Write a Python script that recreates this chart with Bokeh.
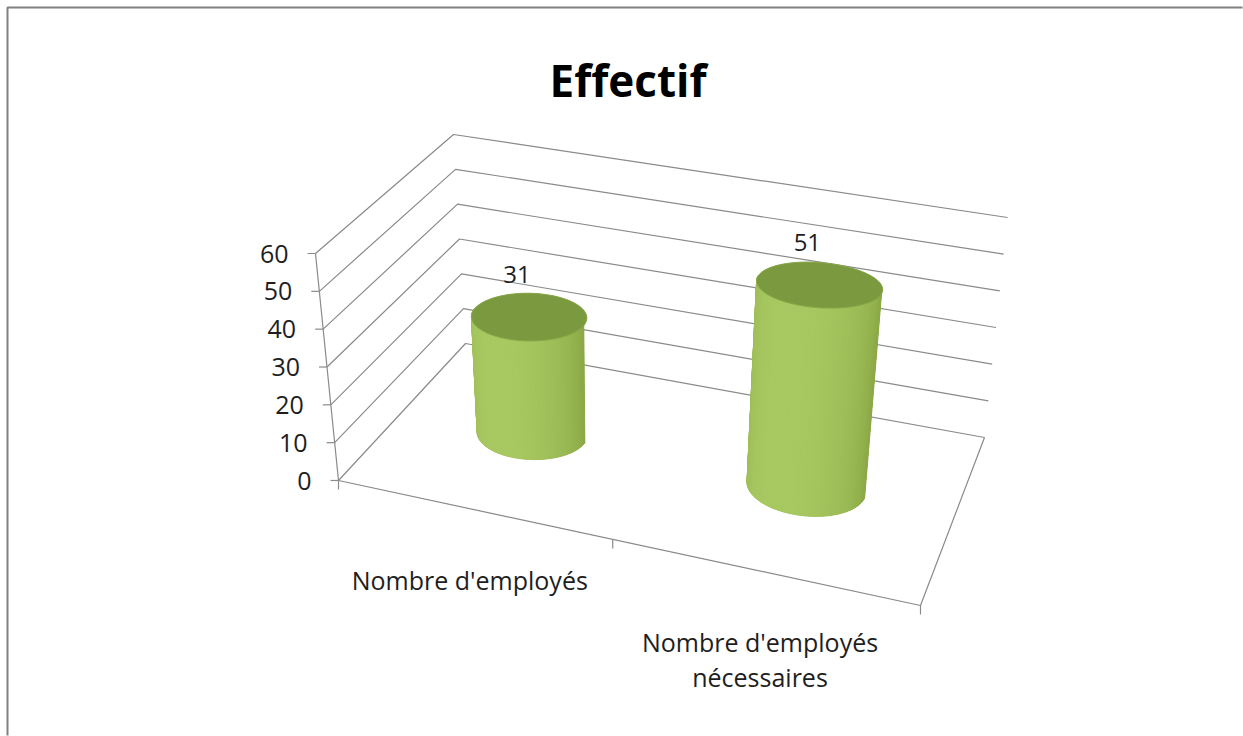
import numpy as np
from bokeh.plotting import figure
from bokeh.models import Range1d
from bokeh.core.properties import value
from bokeh.embed import file_html
from bokeh.resources import INLINE

# ---------------- data ----------------
title_text = "Effectif"
categories = ["Nombre d'employés", "Nombre d'employés\nnécessaires"]
values = [31, 51]
y_ticks = [0, 10, 20, 30, 40, 50, 60]

# ---------------- layout (3D box projection) ----------------
W, H = 1243, 736
Y_MAX = y_ticks[-1]
FLOOR = {"FL": (338, 480), "FR": (920, 605), "BR": (984, 437), "BL": (465, 343)}
VERT = {"FL": (-23, -227), "FR": (30, -268), "BR": (23, -220), "BL": (-12, -209)}
FONT = "Open Sans"
GRID_COLOR = "#8a8a8a"
TEXT_COLOR = "#1e1e1e"
FRAME_INSET = 7


def solve_h(src, dst):
    A, b = [], []
    for (x, y), (X, Y) in zip(src, dst):
        A.append([x, y, 1, 0, 0, 0, -X * x, -X * y]); b.append(X)
        A.append([0, 0, 0, x, y, 1, -Y * x, -Y * y]); b.append(Y)
    h = np.linalg.solve(np.array(A, float), np.array(b, float))
    return np.append(h, 1.0).reshape(3, 3)


HM = solve_h([(0, 0), (1, 0), (1, 1), (0, 1)],
             [FLOOR[k] for k in ("FL", "FR", "BR", "BL")])


def proj(u, w, v):
    u = np.asarray(u, float); w = np.asarray(w, float); v = np.asarray(v, float)
    d = HM[2, 0] * u + HM[2, 1] * w + HM[2, 2]
    x = (HM[0, 0] * u + HM[0, 1] * w + HM[0, 2]) / d
    y = (HM[1, 0] * u + HM[1, 1] * w + HM[1, 2]) / d
    c = [(1 - u) * (1 - w), u * (1 - w), u * w, (1 - u) * w]
    keys = ("FL", "FR", "BR", "BL")
    vx = sum(ci * VERT[k][0] for ci, k in zip(c, keys))
    vy = sum(ci * VERT[k][1] for ci, k in zip(c, keys))
    t = v / Y_MAX
    return x + vx * t, y + vy * t


def hexmix(c1, c2, k):
    a = np.array([int(c1[i:i + 2], 16) for i in (1, 3, 5)], float)
    b = np.array([int(c2[i:i + 2], 16) for i in (1, 3, 5)], float)
    m = np.clip(a + (b - a) * k, 0, 255).astype(int)
    return "#%02x%02x%02x" % tuple(m)


p = figure(width=W, height=H, x_range=Range1d(0, W), y_range=Range1d(H, 0),
           x_axis_location=None, y_axis_location=None, toolbar_location=None,
           output_backend="svg", min_border=0, title=None)
p.outline_line_color = None
p.grid.visible = False
p.background_fill_color = "white"
p.border_fill_color = "white"

# outer chart-area border: top and left edges as one open path
p.line(x=[W - 1, FRAME_INSET, FRAME_INSET], y=[FRAME_INSET, FRAME_INSET, H - 1],
       line_color="#808080", line_width=2)

# gridlines: left wall + back wall
gx, gy = [], []
for t in y_ticks:
    xs, ys = proj([0, 0, 1], [0, 1, 1], [t, t, t])
    gx.append(list(xs)); gy.append(list(ys))
ax_x, ax_y = proj([0, 0], [0, 0], [0, Y_MAX]); gx.append(list(ax_x)); gy.append(list(ax_y))
fx, fy = proj([0, 1, 1], [0, 0, 1], [0, 0, 0]); gx.append(list(fx)); gy.append(list(fy))
p.multi_line(gx, gy, line_color=GRID_COLOR, line_width=1.2)

# y ticks and labels
tx, ty = proj(np.zeros(len(y_ticks)), np.zeros(len(y_ticks)), np.array(y_ticks, float))
p.multi_line([[a - 8, a] for a in tx], [[b, b] for b in ty], line_color=GRID_COLOR, line_width=1.2)
p.text(x=list(tx - 27), y=list(ty), text=[str(t) for t in y_ticks],
       text_font=value(FONT), text_font_size="25px", text_color=TEXT_COLOR,
       text_align="right", text_baseline="middle")

# category ticks
n = len(categories)
cx, cy = proj(np.arange(n + 1) / n, np.zeros(n + 1), np.zeros(n + 1))
p.multi_line([[a, a] for a in cx], [[b, b + 9] for b in cy], line_color=GRID_COLOR, line_width=1.2)

# cylinders
RU, RW, W0 = 0.1, 0.17, 0.5
DARK, LIGHT, TOP = "#7a9838", "#a9c962", "#7b9a3f"
N = 72
for i, val in enumerate(values):
    u0 = (i + 0.5) / n
    tt = np.linspace(0, 2 * np.pi, 181)
    bu, bw = u0 + RU * np.cos(tt), W0 + RW * np.sin(tt)
    bx, by = proj(bu, bw, np.zeros_like(tt))
    topx, topy = proj(bu, bw, np.full_like(tt, val))
    front = (tt >= np.pi)
    back = (tt <= np.pi)
    sx = list(bx[front]) + list(topx[back])
    sy = list(by[front]) + list(topy[back])
    p.patch(sx, sy, fill_color=hexmix(DARK, LIGHT, 0.5), line_color=None)
    ts = np.linspace(np.pi, 2 * np.pi, N + 1)
    su, sw = u0 + RU * np.cos(ts), W0 + RW * np.sin(ts)
    sbx, sby = proj(su, sw, np.zeros_like(ts))
    stx, sty = proj(su, sw, np.full_like(ts, val))
    xs_l, ys_l, cols = [], [], []
    for k in range(N):
        s = (ts[k] + ts[k + 1]) / 2
        s = (s - np.pi) / np.pi
        kk = max(0.0, np.cos((s - 0.42) * np.pi / 1.5))
        cols.append(hexmix(DARK, LIGHT, kk))
        xs_l.append([sbx[k], sbx[k + 1], stx[k + 1], stx[k]])
        ys_l.append([sby[k], sby[k + 1], sty[k + 1], sty[k]])
    p.patches(xs_l, ys_l, fill_color=cols, line_color=cols, line_width=1)
    p.patch(list(topx), list(topy), fill_color=TOP, line_color="#88a648", line_width=1)
    lx, ly = proj(u0, W0, val)
    p.text(x=[float(lx) - 12], y=[float(ly) - 42], text=[str(val)],
           text_font=value(FONT), text_font_size="24px", text_color=TEXT_COLOR,
           text_align="center", text_baseline="middle")

# category labels
lx, ly = proj((np.arange(n) + 0.5) / n, np.zeros(n), np.zeros(n))
p.text(x=list(lx - 2), y=list(ly + 54), text=categories,
       text_font=value(FONT), text_font_size="25px", text_color=TEXT_COLOR,
       text_align="center", text_baseline="top", text_line_height=1.02)

# title
p.text(x=[W / 2 + 6], y=[79], text=[title_text], text_font=value(FONT),
       text_font_size="44px", text_font_style="bold", text_color="#000000",
       text_align="center", text_baseline="middle")

open("out.html", "w").write(file_html(p, INLINE))
